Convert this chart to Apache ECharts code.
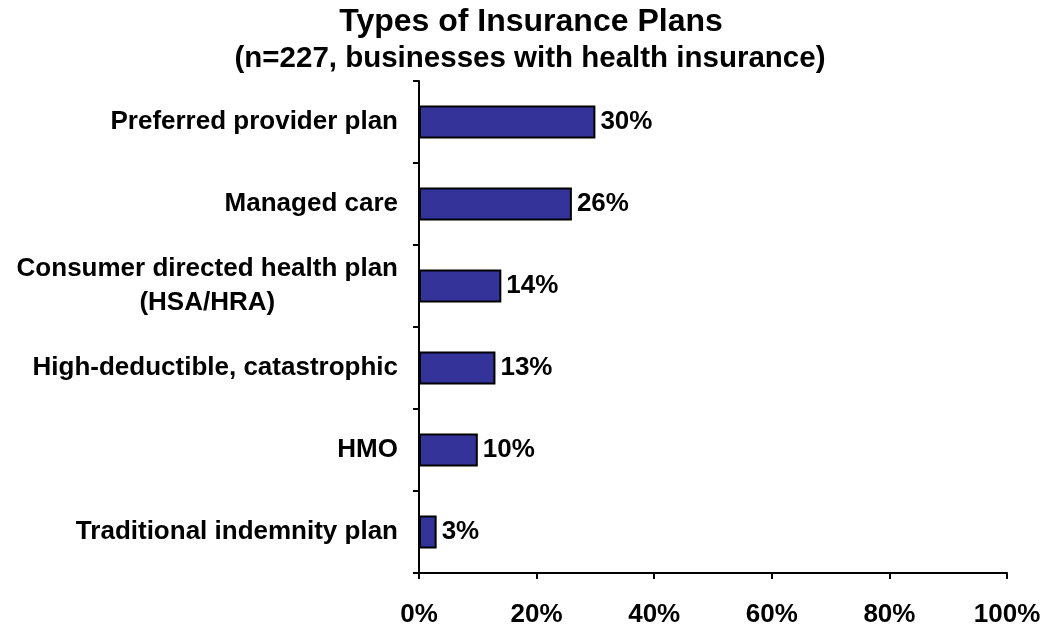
<!DOCTYPE html>
<html><head><meta charset="utf-8">
<script src="https://cdn.jsdelivr.net/npm/echarts@6/dist/echarts.min.js"></script>
<style>html,body{margin:0;padding:0;background:#fff}#c{width:1047px;height:626px}</style>
</head><body><div id="c"></div>
<script>
const categories = ["Traditional indemnity plan", "HMO", "High-deductible, catastrophic", "Consumer directed health plan\n(HSA/HRA)", "Managed care", "Preferred provider plan"];
const values = [3, 10, 13, 14, 26, 30];
const xTicks = [0, 20, 40, 60, 80, 100];
const titleText = "Types of Insurance Plans";
const subtitleText = "(n=227, businesses with health insurance)";

const FONT = '"Liberation Sans", Arial, sans-serif';
const chart = echarts.init(document.getElementById('c'));
chart.setOption({
  animation: false,
  title: [{
    text: titleText, left: 526, top: 1, textAlign: 'center',
    textStyle: {fontFamily: FONT, fontWeight: 'bold', fontSize: 32, color: '#000', lineHeight: 33}
  }, {
    text: subtitleText, left: 525, top: 39, textAlign: 'center',
    textStyle: {fontFamily: FONT, fontWeight: 'bold', fontSize: 29.5, color: '#000', lineHeight: 30}
  }],
  grid: {left: 419, right: 40, top: 81, bottom: 53, containLabel: false, outerBoundsMode: 'none'},
  xAxis: {
    type: 'value', min: 0, max: 100, interval: 20,
    axisLine: {show: true, lineStyle: {color: '#000', width: 2}},
    axisTick: {show: true, length: 6, lineStyle: {color: '#000', width: 2}},
    splitLine: {show: false},
    axisLabel: {margin: 29, fontFamily: FONT, fontWeight: 'bold', fontSize: 26, color: '#000',
      formatter: v => xTicks.includes(v) ? v + '%' : ''}
  },
  yAxis: {
    type: 'category', data: categories,
    axisLine: {show: true, lineStyle: {color: '#000', width: 2}},
    axisTick: {show: true, length: 6, lineStyle: {color: '#000', width: 2}},
    axisLabel: {margin: 21, fontFamily: FONT, fontWeight: 'bold', fontSize: 26, color: '#000',
      formatter: v => v.split('\n').map(s => '{a|' + s + '}').join('\n'),
      rich: {a: {align: 'center', fontFamily: FONT, fontWeight: 'bold', fontSize: 26, color: '#000', lineHeight: 34}}}
  },
  series: [{
    type: 'bar', data: values, barWidth: 33,
    itemStyle: {color: '#333399', borderColor: '#000', borderWidth: 2},
    label: {show: true, position: 'right', distance: 5, formatter: p => p.value + '%',
      fontFamily: FONT, fontWeight: 'bold', fontSize: 26, color: '#000'}
  }]
});
</script></body></html>
